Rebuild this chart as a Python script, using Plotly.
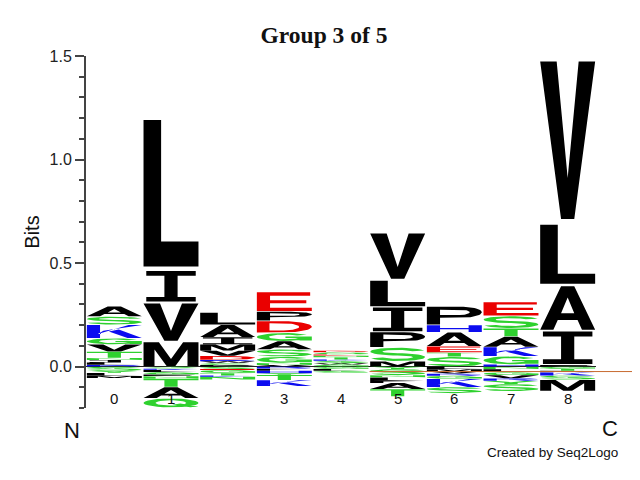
import numpy as np
import plotly.graph_objects as go

# sequence logo data: letter stacks per position (bits)
positions = [0, 1, 2, 3, 4, 5, 6, 7, 8]
tick_labels = ["0", "1", "2", "3", "4", "5", "6", "7", "8"]

# stacked upward from 0, bottom letter first
stack_up = [
    [("R", 0.008), ("L", 0.012), ("I", 0.012), ("N", 0.010), ("T", 0.030), ("V", 0.035),
     ("G", 0.030), ("K", 0.065), ("S", 0.040), ("A", 0.050)],
    [("M", 0.120), ("V", 0.190), ("I", 0.155), ("L", 0.745)],
    [("P", 0.008), ("C", 0.010), ("W", 0.008), ("R", 0.006), ("D", 0.020), ("V", 0.025),
     ("M", 0.030), ("I", 0.035), ("A", 0.060), ("L", 0.060)],
    [("V", 0.008), ("N", 0.010), ("G", 0.030), ("S", 0.035), ("A", 0.040), ("G", 0.040),
     ("D", 0.058), ("P", 0.045), ("E", 0.095)],
    [("G", 0.010), ("W", 0.006), ("S", 0.012), ("K", 0.006), ("T", 0.012), ("N", 0.007),
     ("E", 0.006), ("Q", 0.010), ("D", 0.008)],
    [("M", 0.025), ("S", 0.068), ("P", 0.075), ("I", 0.120), ("L", 0.130), ("V", 0.230)],
    [("S", 0.048), ("T", 0.020), ("E", 0.030), ("A", 0.068), ("H", 0.035), ("P", 0.090)],
    [("H", 0.010), ("G", 0.040), ("K", 0.045), ("A", 0.050), ("T", 0.040), ("S", 0.060),
     ("E", 0.068)],
    [("F", 0.008), ("I", 0.165), ("A", 0.220), ("L", 0.300), ("V", 0.800)],
]

# stacked downward from 0, letter nearest zero first
stack_down = [
    [("S", 0.020), ("Y", 0.010), ("L", 0.015), ("M", 0.010)],
    [("S", 0.010), ("K", 0.006), ("L", 0.010), ("G", 0.012), ("F", 0.008), ("N", 0.012),
     ("T", 0.040), ("A", 0.055), ("Q", 0.045)],
    [("S", 0.012), ("E", 0.004), ("G", 0.015), ("T", 0.012), ("K", 0.006), ("N", 0.014)],
    [("R", 0.010), ("F", 0.010), ("H", 0.012), ("Y", 0.008), ("T", 0.025), ("K", 0.030)],
    [("G", 0.012), ("L", 0.008), ("S", 0.010)],
    [("Y", 0.012), ("S", 0.030), ("N", 0.010), ("L", 0.015), ("F", 0.012), ("A", 0.030),
     ("T", 0.035)],
    [("L", 0.012), ("M", 0.012), ("V", 0.010), ("R", 0.010), ("G", 0.015), ("K", 0.040),
     ("S", 0.030)],
    [("N", 0.012), ("L", 0.015), ("G", 0.015), ("V", 0.015), ("R", 0.012), ("Y", 0.015),
     ("S", 0.035)],
    [("G", 0.010), ("T", 0.010), ("P", 0.008), ("K", 0.015), ("S", 0.020), ("M", 0.055)],
]

baseline_offset = -0.024

colors = {
    "black": "#000000",
    "green": "#2ed12e",
    "blue": "#0c0cf0",
    "red": "#ea0000",
}
letter_color = {}
for aa in "AVLIPWFM":
    letter_color[aa] = "black"
for aa in "GSTYCNQ":
    letter_color[aa] = "green"
for aa in "KRH":
    letter_color[aa] = "blue"
for aa in "DE":
    letter_color[aa] = "red"


# ---- glyph outlines in a unit box ----
def arc(cx, cy, rx, ry, a0, a1, n=28):
    t = np.radians(np.linspace(a0, a1, n))
    return list(zip(cx + rx * np.cos(t), cy + ry * np.sin(t)))


def ring(cx, cy, rxo, ryo, rxi, ryi, a0, a1):
    return arc(cx, cy, rxo, ryo, a0, a1) + arc(cx, cy, rxi, ryi, a1, a0)


def rect(x0, y0, x1, y1):
    return [(x0, y0), (x1, y0), (x1, y1), (x0, y1)]


def area(p):
    x = np.array([q[0] for q in p])
    y = np.array([q[1] for q in p])
    return 0.5 * np.sum(x * np.roll(y, -1) - np.roll(x, -1) * y)


def orient(p, ccw):
    return p if (area(p) > 0) == ccw else p[::-1]


glyphs = {
    "A": ([[(0, 0), (0.24, 0), (0.32, 0.22), (0.68, 0.22), (0.76, 0), (1, 0), (0.62, 1), (0.38, 1)]],
          [[(0.38, 0.38), (0.62, 0.38), (0.5, 0.74)]]),
    "C": ([ring(0.5, 0.5, 0.5, 0.5, 0.28, 0.3, 38, 322)], []),
    "D": ([[(0, 0), (0.45, 0)] + arc(0.45, 0.5, 0.55, 0.5, -90, 90) + [(0, 1)]],
          [[(0.23, 0.18), (0.45, 0.18)] + arc(0.45, 0.5, 0.32, 0.32, -90, 90) + [(0.23, 0.82)]]),
    "E": ([[(0, 0), (1, 0), (1, 0.18), (0.24, 0.18), (0.24, 0.42), (0.9, 0.42), (0.9, 0.58),
            (0.24, 0.58), (0.24, 0.82), (0.97, 0.82), (0.97, 1), (0, 1)]], []),
    "F": ([[(0, 0), (0.24, 0), (0.24, 0.42), (0.85, 0.42), (0.85, 0.58), (0.24, 0.58),
            (0.24, 0.82), (0.95, 0.82), (0.95, 1), (0, 1)]], []),
    "G": ([ring(0.5, 0.5, 0.5, 0.5, 0.28, 0.3, 35, 350), rect(0.52, 0.38, 1.0, 0.55),
           rect(0.78, 0.06, 1.0, 0.55)], []),
    "H": ([[(0, 0), (0.24, 0), (0.24, 0.42), (0.76, 0.42), (0.76, 0), (1, 0), (1, 1), (0.76, 1),
            (0.76, 0.6), (0.24, 0.6), (0.24, 1), (0, 1)]], []),
    "I": ([rect(0.05, 0.85, 0.95, 1), rect(0.05, 0, 0.95, 0.15), rect(0.38, 0, 0.62, 1)], []),
    "K": ([rect(0, 0, 0.24, 1), [(0.2, 0.3), (0.76, 1), (1, 1), (0.3, 0.56)],
           [(0.4, 0.5), (0.74, 0), (1, 0), (0.58, 0.66)]], []),
    "L": ([[(0, 0), (1, 0), (1, 0.17), (0.32, 0.17), (0.32, 1), (0, 1)]], []),
    "M": ([[(0, 0), (0.2, 0), (0.2, 0.7), (0.42, 0), (0.58, 0), (0.8, 0.7), (0.8, 0), (1, 0),
            (1, 1), (0.72, 1), (0.5, 0.3), (0.28, 1), (0, 1)]], []),
    "N": ([[(0, 0), (0.22, 0), (0.22, 0.65), (0.75, 0), (1, 0), (1, 1), (0.78, 1), (0.78, 0.35),
            (0.25, 1), (0, 1)]], []),
    "P": ([[(0, 0), (0.24, 0), (0.24, 0.38), (0.62, 0.38)] + arc(0.62, 0.69, 0.38, 0.31, -90, 90) + [(0, 1)]],
          [[(0.24, 0.54), (0.6, 0.54)] + arc(0.6, 0.69, 0.18, 0.15, -90, 90) + [(0.24, 0.84)]]),
    "Q": ([arc(0.5, 0.5, 0.5, 0.5, 0, 360), [(0.52, 0.3), (0.67, 0.44), (1.0, 0.1), (0.85, 0.0)]],
          [arc(0.5, 0.5, 0.28, 0.3, 0, 360)]),
    "R": ([[(0, 0), (0.24, 0), (0.24, 0.42), (0.6, 0.42)] + arc(0.6, 0.71, 0.38, 0.29, -90, 90) + [(0, 1)],
           [(0.5, 0.45), (0.76, 0), (1.0, 0), (0.74, 0.5)]],
          [[(0.24, 0.57), (0.58, 0.57)] + arc(0.58, 0.71, 0.18, 0.14, -90, 90) + [(0.24, 0.85)]]),
    "S": ([ring(0.5, 0.7075, 0.5, 0.2925, 0.28, 0.1225, 15, 270),
           ring(0.5, 0.2925, 0.5, 0.2925, 0.28, 0.1225, 90, -165)], []),
    "T": ([rect(0, 0.82, 1, 1), rect(0.38, 0, 0.62, 0.82)], []),
    "V": ([[(0, 1), (0.3, 1), (0.5, 0.26), (0.7, 1), (1, 1), (0.62, 0), (0.38, 0)]], []),
    "W": ([[(0, 1), (0.18, 1), (0.3, 0.3), (0.42, 1), (0.58, 1), (0.7, 0.3), (0.82, 1), (1, 1),
            (0.8, 0), (0.62, 0), (0.5, 0.65), (0.38, 0), (0.2, 0)]], []),
    "Y": ([[(0, 1), (0.26, 1), (0.5, 0.58), (0.74, 1), (1, 1), (0.62, 0.42), (0.62, 0),
            (0.38, 0), (0.38, 0.42)]], []),
}

half_width = 0.485
paths = {c: ([], []) for c in colors}


def add_letter(letter, xc, y0, y1):
    xs, ys = paths[letter_color[letter]]
    pad = 0.025 * (y1 - y0)
    lo, hi = y0 + pad, y1 - pad
    solids, holes = glyphs[letter]
    for poly, ccw in [(p, True) for p in solids] + [(p, False) for p in holes]:
        for px, py in orient(poly, ccw):
            xs.append(xc - half_width + 2 * half_width * px)
            ys.append(lo + (hi - lo) * py)
        xs.append(None)
        ys.append(None)


for pos, stack in zip(positions, stack_up):
    base = 0.0
    for letter, h in stack:
        add_letter(letter, pos, base, base + h)
        base += h

for pos, stack in zip(positions, stack_down):
    base = 0.0
    for letter, h in stack:
        add_letter(letter, pos, base - h, base)
        base -= h

fig = go.Figure()
for cname, (xs, ys) in paths.items():
    fig.add_trace(go.Scatter(
        x=xs, y=ys, mode="lines", fill="toself",
        fillcolor=colors[cname], line=dict(width=0, color=colors[cname]),
        hoverinfo="skip", showlegend=False,
    ))

label_font = dict(family="Liberation Sans", color="#111")
annotations = []
for pos, lab in zip(positions, tick_labels):
    annotations.append(dict(x=pos, y=-0.152, xref="x", yref="y", text=lab, showarrow=False,
                            yanchor="middle", font=dict(size=15, **label_font)))
annotations += [
    dict(x=-0.0275, y=-0.0625, xref="paper", yref="paper", text="N", showarrow=False,
         xanchor="center", yanchor="middle", font=dict(size=22, **label_font)),
    dict(x=1.027, y=-0.057, xref="paper", yref="paper", text="C", showarrow=False,
         xanchor="center", yanchor="middle", font=dict(size=22, **label_font)),
    dict(x=0.914, y=-0.125, xref="paper", yref="paper", text="Created by Seq2Logo",
         showarrow=False, xanchor="center", yanchor="middle", font=dict(size=13.5, **label_font)),
]

# page has an 8px body margin, so the figure is 8px smaller and shifted
fig.update_layout(
    width=632, height=472,
    margin=dict(l=78, r=44, t=48, b=72),
    paper_bgcolor="white", plot_bgcolor="white",
    title=dict(text="<b>Group 3 of 5</b>", x=0.5, xref="container", xanchor="center",
               y=0.943, yref="container", yanchor="middle",
               font=dict(family="Liberation Serif", size=23.5, color="#111")),
    xaxis=dict(range=[-0.5, 8.5], showline=False, showgrid=False, zeroline=False,
               showticklabels=False, ticks=""),
    yaxis=dict(range=[-0.2, 1.5], tickvals=[0, 0.5, 1.0, 1.5], tickformat=".1f",
               showline=True, linecolor="#444", linewidth=2,
               ticks="outside", ticklen=9, tickwidth=2, tickcolor="#444",
               minor=dict(dtick=0.1, ticks="outside", ticklen=5, tickwidth=2, tickcolor="#444",
                          showgrid=False),
               showgrid=False, zeroline=True, zerolinecolor="#222", zerolinewidth=1,
               tickfont=dict(family="Liberation Sans", size=16, color="#222"),
               title=dict(text="Bits", standoff=5,
                          font=dict(family="Liberation Sans", size=20, color="#111"))),
    annotations=annotations,
    shapes=[dict(type="line", xref="paper", yref="y", x0=0.556, x1=1.086,
                 y0=baseline_offset, y1=baseline_offset,
                 line=dict(color="#c86a30", width=1))],
)

fig.write_html("out.html")
